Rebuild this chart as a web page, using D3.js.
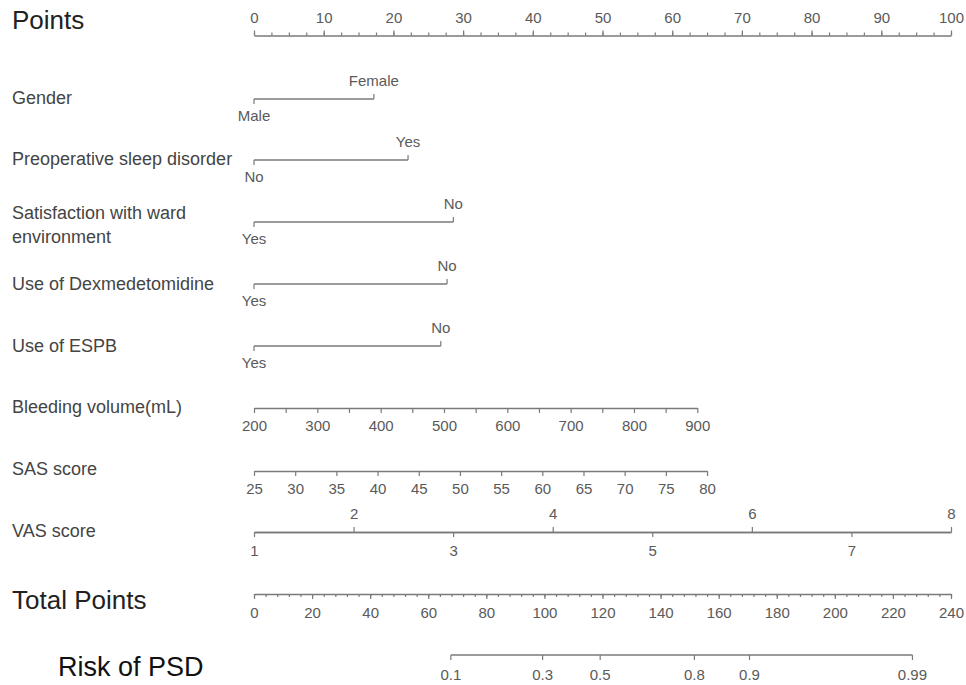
<!DOCTYPE html>
<html>
<head>
<meta charset="utf-8">
<script src="https://cdn.jsdelivr.net/npm/d3@7"></script>
<style>
  body { margin: 0; background: #fff; }
  text { font-family: "Liberation Sans", Arial, sans-serif; }
</style>
</head>
<body>
<svg id="chart" width="966" height="685"></svg>
<script>
// points axis
var pointTicks = [0, 10, 20, 30, 40, 50, 60, 70, 80, 90, 100];

// categorical predictors: level labels and their points
var genderLevels = ["Male", "Female"];
var genderPoints = [0, 17.2];
var sleepLevels = ["No", "Yes"];
var sleepPoints = [0, 22.1];
var wardLevels = ["Yes", "No"];
var wardPoints = [0, 28.6];
var dexLevels = ["Yes", "No"];
var dexPoints = [0, 27.7];
var espbLevels = ["Yes", "No"];
var espbPoints = [0, 26.8];

// continuous predictors: value range -> points range
var bleedRange = [200, 900];
var bleedPoints = [0, 63.6];
var bleedTicks = [200, 250, 300, 350, 400, 450, 500, 550, 600, 650, 700, 750, 800, 850, 900];
var bleedLabels = [200, 300, 400, 500, 600, 700, 800, 900];

var sasRange = [25, 80];
var sasPoints = [0, 65];
var sasTicks = [25, 30, 35, 40, 45, 50, 55, 60, 65, 70, 75, 80];

var vasRange = [1, 8];
var vasPoints = [0, 100];
var vasTop = [2, 4, 6, 8];
var vasBottom = [1, 3, 5, 7];

// total points and risk
var totalRange = [0, 240];
var totalTicks = [0, 20, 40, 60, 80, 100, 120, 140, 160, 180, 200, 220, 240];
var riskTicks = [0.1, 0.3, 0.5, 0.8, 0.9, 0.99];
var riskLogit = [0, 1];        // logit 0 and 1 ...
var riskTotal = [119.2, 142.6]; // ... sit at these total points

var svg = d3.select("#chart");
var lineCol = "#7a7a7a", tickCol = "#5a5a5a", labCol = "#444";
var tickFont = 15;

var x = d3.scaleLinear().domain([0, 100]).range([254, 951]);
var xTotal = d3.scaleLinear().domain(totalRange).range([254, 951]);

function styleAxis(g) {
  g.select(".domain").attr("stroke", lineCol).attr("stroke-width", 1.3);
  g.selectAll(".tick line").attr("stroke", lineCol).attr("stroke-width", 1.2);
  g.selectAll("text").attr("fill", tickCol).attr("font-size", tickFont)
    .attr("font-family", "Liberation Sans, Arial, sans-serif");
}

function leftLabel(txt, y, size, col, x0) {
  svg.append("text").attr("x", x0 || 12).attr("y", y).attr("dy", "0.35em")
    .attr("font-size", size || 18).attr("fill", col || labCol).text(txt);
}

// Points
leftLabel("Points", 20, 26, "#222");
var gp = svg.append("g").attr("transform", "translate(0,35.5)");
gp.call(d3.axisTop(x).tickValues(d3.range(0, 100.1, 2.5)).tickSize(3).tickFormat("").tickSizeOuter(0));
gp.append("g").call(d3.axisTop(x).tickValues(pointTicks).tickSize(5).tickSizeOuter(0))
  .call(function(g) { g.select(".domain").remove(); g.selectAll("text").attr("y", -17.5).attr("dy", "0.35em"); styleAxis(g); });
styleAxis(gp);

// categorical rows
function catRow(levels, pts, y) {
  var g = svg.append("g");
  g.append("line").attr("x1", x(pts[0])).attr("x2", x(pts[1])).attr("y1", y).attr("y2", y)
    .attr("stroke", lineCol).attr("stroke-width", 1.3);
  g.append("line").attr("x1", x(pts[0])).attr("x2", x(pts[0])).attr("y1", y).attr("y2", y + 5)
    .attr("stroke", lineCol).attr("stroke-width", 1.2);
  g.append("line").attr("x1", x(pts[1])).attr("x2", x(pts[1])).attr("y1", y).attr("y2", y - 5)
    .attr("stroke", lineCol).attr("stroke-width", 1.2);
  g.append("text").attr("x", x(pts[0])).attr("y", y + 17).attr("dy", "0.35em")
    .attr("text-anchor", "middle").attr("font-size", tickFont).attr("fill", tickCol).text(levels[0]);
  g.append("text").attr("x", x(pts[1])).attr("y", y - 18).attr("dy", "0.35em")
    .attr("text-anchor", "middle").attr("font-size", tickFont).attr("fill", tickCol).text(levels[1]);
}

leftLabel("Gender", 98);
catRow(genderLevels, genderPoints, 99);
leftLabel("Preoperative sleep disorder", 159);
catRow(sleepLevels, sleepPoints, 160);
leftLabel("Satisfaction with ward", 213);
leftLabel("environment", 237);
catRow(wardLevels, wardPoints, 222);
leftLabel("Use of Dexmedetomidine", 284);
catRow(dexLevels, dexPoints, 284);
leftLabel("Use of ESPB", 346);
catRow(espbLevels, espbPoints, 346);

// continuous rows
function contScale(range, pts) {
  return d3.scaleLinear().domain(range).range([x(pts[0]), x(pts[1])]);
}

leftLabel("Bleeding volume(mL)", 407);
var sBleed = contScale(bleedRange, bleedPoints);
svg.append("g").attr("transform", "translate(0,408)")
  .call(d3.axisBottom(sBleed).tickValues(bleedTicks).tickSize(5).tickSizeOuter(0)
    .tickFormat(function(d) { return bleedLabels.indexOf(d) >= 0 ? d : ""; }))
  .call(function(g) { g.selectAll("text").attr("y", 18).attr("dy", "0.35em"); styleAxis(g); });

leftLabel("SAS score", 469);
var sSas = contScale(sasRange, sasPoints);
svg.append("g").attr("transform", "translate(0,471)")
  .call(d3.axisBottom(sSas).tickValues(sasTicks).tickSize(5).tickSizeOuter(0))
  .call(function(g) { g.selectAll("text").attr("y", 18).attr("dy", "0.35em"); styleAxis(g); });

leftLabel("VAS score", 531);
var sVas = contScale(vasRange, vasPoints);
svg.append("g").attr("transform", "translate(0,532)")
  .call(d3.axisTop(sVas).tickValues(vasTop).tickSize(5).tickSizeOuter(0).tickFormat(d3.format("d")))
  .call(function(g) { g.selectAll("text").attr("y", -18).attr("dy", "0.35em"); styleAxis(g); });
svg.append("g").attr("transform", "translate(0,532)")
  .call(d3.axisBottom(sVas).tickValues(vasBottom).tickSize(5).tickSizeOuter(0).tickFormat(d3.format("d")))
  .call(function(g) { g.selectAll("text").attr("y", 19).attr("dy", "0.35em"); styleAxis(g); });

// Total Points
leftLabel("Total Points", 600, 26, "#222");
var gt = svg.append("g").attr("transform", "translate(0,594)");
gt.call(d3.axisBottom(xTotal).tickValues(d3.range(0, 240.1, 4)).tickSize(3).tickFormat("").tickSizeOuter(0));
gt.append("g").call(d3.axisBottom(xTotal).tickValues(totalTicks).tickSize(5).tickSizeOuter(0))
  .call(function(g) { g.select(".domain").remove(); g.selectAll("text").attr("y", 19).attr("dy", "0.35em"); styleAxis(g); });
styleAxis(gt);

// Risk of PSD
leftLabel("Risk of PSD", 667, 27, "#111", 58);
var logitToTotal = d3.scaleLinear().domain(riskLogit).range(riskTotal);
function xRisk(p) { return xTotal(logitToTotal(Math.log(p / (1 - p)))); }
var gr = svg.append("g").attr("transform", "translate(0,655)");
gr.append("line").attr("x1", xRisk(riskTicks[0])).attr("x2", xRisk(riskTicks[riskTicks.length - 1]))
  .attr("stroke", lineCol).attr("stroke-width", 1.3);
var rt = gr.selectAll("g.rt").data(riskTicks).enter().append("g")
  .attr("transform", function(d) { return "translate(" + xRisk(d) + ",0)"; });
rt.append("line").attr("y2", 5).attr("stroke", lineCol).attr("stroke-width", 1.2);
rt.append("text").attr("y", 20).attr("dy", "0.35em").attr("text-anchor", "middle")
  .attr("font-size", tickFont).attr("fill", tickCol).text(function(d) { return d; });
</script>
</body>
</html>
